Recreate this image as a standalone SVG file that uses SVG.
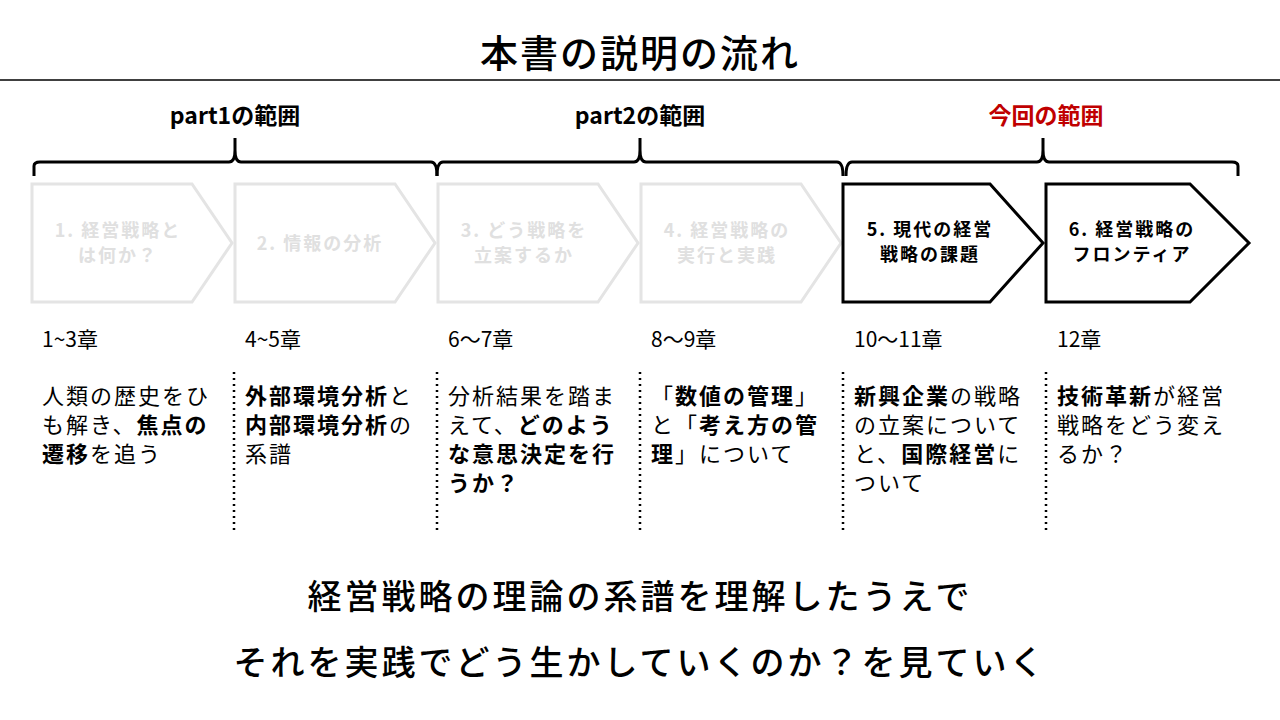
<svg xmlns="http://www.w3.org/2000/svg" width="1280" height="720" viewBox="0 0 1280 720">
<style>
text{font-family:"Noto Sans CJK JP","Noto Sans",sans-serif;fill:#000}
.t{font-size:38px;font-weight:500;letter-spacing:2px}
.h{font-size:23px;font-weight:700;text-anchor:middle}
.g{fill:#fff;stroke:#e4e4e4;stroke-width:3}
.gt{font-size:18px;font-weight:700;fill:#e0e0e0;text-anchor:middle;letter-spacing:2px}
.k{fill:#fff;stroke:#000;stroke-width:3}
.kt{font-size:18px;font-weight:700;text-anchor:middle;letter-spacing:2px}
.c{font-size:21px}
.d{font-size:22px;letter-spacing:2px}
.b{font-weight:700}
.br{fill:none;stroke:#000;stroke-width:3}
.dl{stroke:#000;stroke-width:2.5;stroke-dasharray:2 4}
.m{font-size:34px;font-weight:500;text-anchor:middle;letter-spacing:3px}
</style>
<rect width="1280" height="720" fill="#fff"/>
<text class="t" x="640" y="67" text-anchor="middle">本書の説明の流れ</text>
<line x1="0" y1="80" x2="1280" y2="80" stroke="#000" stroke-width="1.5"/>
<g id="connectors">
<path class="br" d="M34,176 V166 Q34,162 40,162 H229 Q235,162 235,150 V138 M235,150 Q235,162 241,162 H431 Q437,162 437,176"/>
<path class="br" d="M437,176 Q437,162 443,162 H634 Q640,162 640,150 V138 M640,150 Q640,162 646,162 H837 Q843,162 843,176"/>
<path class="br" d="M846,176 Q846,162 852,162 H1037 Q1043,162 1043,150 V138 M1043,150 Q1043,162 1049,162 H1232 Q1238,162 1238,166 V176"/>
<line class="dl" x1="234" y1="372" x2="234" y2="530"/>
<line class="dl" x1="437" y1="372" x2="437" y2="530"/>
<line class="dl" x1="640" y1="372" x2="640" y2="530"/>
<line class="dl" x1="843" y1="372" x2="843" y2="530"/>
<line class="dl" x1="1046" y1="372" x2="1046" y2="530"/>
</g>
<text class="h" x="235" y="124">part1の範囲</text>
<text class="h" x="640" y="124">part2の範囲</text>
<text class="h" x="1046" y="124" style="fill:#c00000">今回の範囲</text>
<g id="n1"><path class="g" d="M32,184 H192 L232,243 L192,302 H32 Z"/><text class="gt" x="118" y="237">1. 経営戦略と</text><text class="gt" x="118" y="262">は何か？</text></g>
<g id="n2"><path class="g" d="M235,184 H395 L435,243 L395,302 H235 Z"/><text class="gt" x="320" y="250">2. 情報の分析</text></g>
<g id="n3"><path class="g" d="M438,184 H598 L638,243 L598,302 H438 Z"/><text class="gt" x="524" y="237">3. どう戦略を</text><text class="gt" x="524" y="262">立案するか</text></g>
<g id="n4"><path class="g" d="M641,184 H801 L841,243 L801,302 H641 Z"/><text class="gt" x="727" y="237">4. 経営戦略の</text><text class="gt" x="727" y="262">実行と実践</text></g>
<g id="n5"><path class="k" d="M843,184 H990 L1043,243 L990,302 H843 Z"/><text class="kt" x="930" y="236">5. 現代の経営</text><text class="kt" x="930" y="261">戦略の課題</text></g>
<g id="n6"><path class="k" d="M1046,184 H1190 L1249,243 L1190,302 H1046 Z"/><text class="kt" x="1132" y="236">6. 経営戦略の</text><text class="kt" x="1132" y="261">フロンティア</text></g>
<g id="chap">
<text class="c" x="42" y="347">1~3章</text>
<text class="c" x="245" y="347">4~5章</text>
<text class="c" x="448" y="347">6～7章</text>
<text class="c" x="651" y="347">8～9章</text>
<text class="c" x="854" y="347">10～11章</text>
<text class="c" x="1057" y="347">12章</text>
</g>
<g id="desc">
<text class="d" x="42" y="404">人類の歴史をひ</text>
<text class="d" x="42" y="433">も解き、<tspan class="b">焦点の</tspan></text>
<text class="d" x="42" y="462"><tspan class="b">遷移</tspan>を追う</text>
<text class="d" x="245" y="404"><tspan class="b">外部環境分析</tspan>と</text>
<text class="d" x="245" y="433"><tspan class="b">内部環境分析</tspan>の</text>
<text class="d" x="245" y="462">系譜</text>
<text class="d" x="448" y="404">分析結果を踏ま</text>
<text class="d" x="448" y="433">えて、<tspan class="b">どのよう</tspan></text>
<text class="d" x="448" y="462"><tspan class="b">な意思決定を行</tspan></text>
<text class="d" x="448" y="491"><tspan class="b">うか？</tspan></text>
<text class="d" x="651" y="404">「<tspan class="b">数値の管理</tspan>」</text>
<text class="d" x="651" y="433">と「<tspan class="b">考え方の管</tspan></text>
<text class="d" x="651" y="462"><tspan class="b">理</tspan>」について</text>
<text class="d" x="854" y="404"><tspan class="b">新興企業</tspan>の戦略</text>
<text class="d" x="854" y="433">の立案について</text>
<text class="d" x="854" y="462">と、<tspan class="b">国際経営</tspan>に</text>
<text class="d" x="854" y="491">ついて</text>
<text class="d" x="1057" y="404"><tspan class="b">技術革新</tspan>が経営</text>
<text class="d" x="1057" y="433">戦略をどう変え</text>
<text class="d" x="1057" y="462">るか？</text>
</g>
<text class="m" x="640" y="609">経営戦略の理論の系譜を理解したうえで</text>
<text class="m" x="640" y="675">それを実践でどう生かしていくのか？を見ていく</text>
</svg>
